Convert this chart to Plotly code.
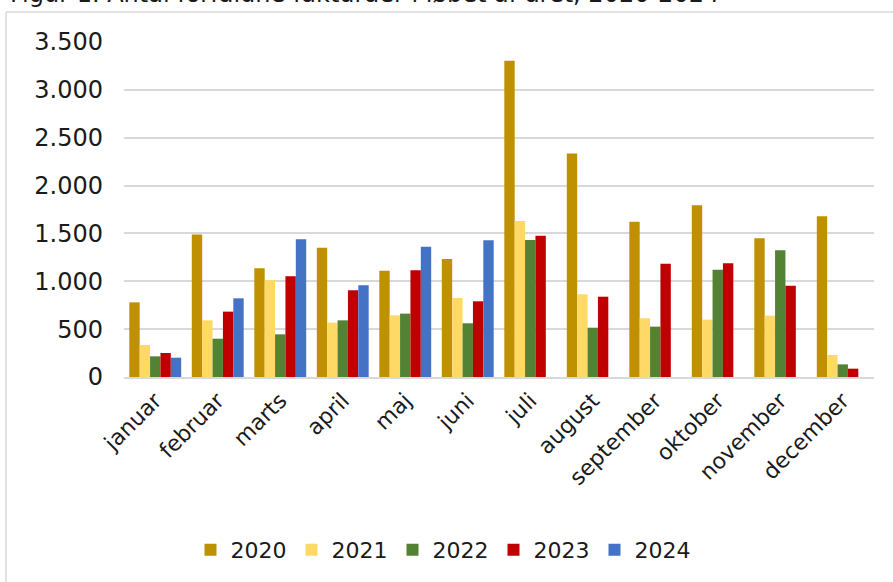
import plotly.graph_objects as go

months = ["januar", "februar", "marts", "april", "maj", "juni", "juli",
          "august", "september", "oktober", "november", "december"]
years = ["2020", "2021", "2022", "2023", "2024"]
v2020 = [780, 1490, 1135, 1350, 1110, 1233, 3305, 2334, 1623, 1794, 1449, 1679]
v2021 = [334, 592, 1014, 568, 644, 825, 1630, 864, 613, 599, 641, 230]
v2022 = [216, 400, 446, 592, 662, 561, 1432, 515, 526, 1121, 1324, 132]
v2023 = [251, 683, 1052, 906, 1115, 791, 1477, 839, 1184, 1188, 954, 87]
v2024 = [202, 822, 1438, 958, 1362, 1428, None, None, None, None, None, None]
colors = ["#BF9000", "#FFD966", "#548235", "#C00000", "#4472C4"]
yticks = [0, 500, 1000, 1500, 2000, 2500, 3000, 3500]
yticklabels = ["0", "500", "1.000", "1.500", "2.000", "2.500", "3.000", "3.500"]
title = "Figur 1. Antal forfaldne fakturaer i løbet af året, 2020-2024"

series = [v2020, v2021, v2022, v2023, v2024]
fig = go.Figure()
for name, vals, col in zip(years, series, colors):
    fig.add_trace(go.Bar(x=months, y=vals, name=name, marker_color=col,
                         marker_line_width=0))

W, H = 893, 582
L, R, T, B = 124, 19, 42, 205
pw, ph = W - L - R, H - T - B

def px(x):
    return (x - L) / pw

def py(y):
    return (H - B - y) / ph

FONT = "DejaVu Sans"
fig.update_layout(
    width=W, height=H,
    margin=dict(l=L, r=R, t=T, b=B, autoexpand=False),
    paper_bgcolor="white", plot_bgcolor="white",
    barmode="group", bargap=0.17, bargroupgap=0,
    font=dict(family=FONT, color="#1a1a1a", size=22),
    showlegend=True,
    legend=dict(orientation="h", x=px(443), xanchor="center", y=py(550),
                yanchor="middle", font=dict(size=22), traceorder="normal"),
    xaxis=dict(tickangle=-45, tickfont=dict(size=22), showgrid=False,
               showline=True, linecolor="#D9D9D9", linewidth=2, ticks="",
               automargin=False),
    yaxis=dict(range=[0, 3500], tickvals=yticks, ticktext=yticklabels,
               showgrid=True, gridcolor="#D9D9D9", gridwidth=1.5,
               zeroline=False, tickfont=dict(size=24), ticks="",
               ticklabelstandoff=20, automargin=False),
)
fig.add_annotation(text=title, xref="paper", yref="paper", x=px(8), y=py(10),
                   xanchor="left", yanchor="bottom", showarrow=False,
                   font=dict(size=24, color="#1a1a1a"))
fig.add_shape(type="line", xref="paper", yref="paper", x0=px(6), x1=px(900),
              y0=py(12), y1=py(12), line=dict(color="#D9D9D9", width=1.5))
fig.add_shape(type="line", xref="paper", yref="paper", x0=px(6), x1=px(6),
              y0=py(12), y1=py(600), line=dict(color="#D9D9D9", width=1.5))
fig.write_html("out.html", config={"displayModeBar": False},
               post_script="document.body.style.margin='0';document.body.style.overflow='hidden';")
